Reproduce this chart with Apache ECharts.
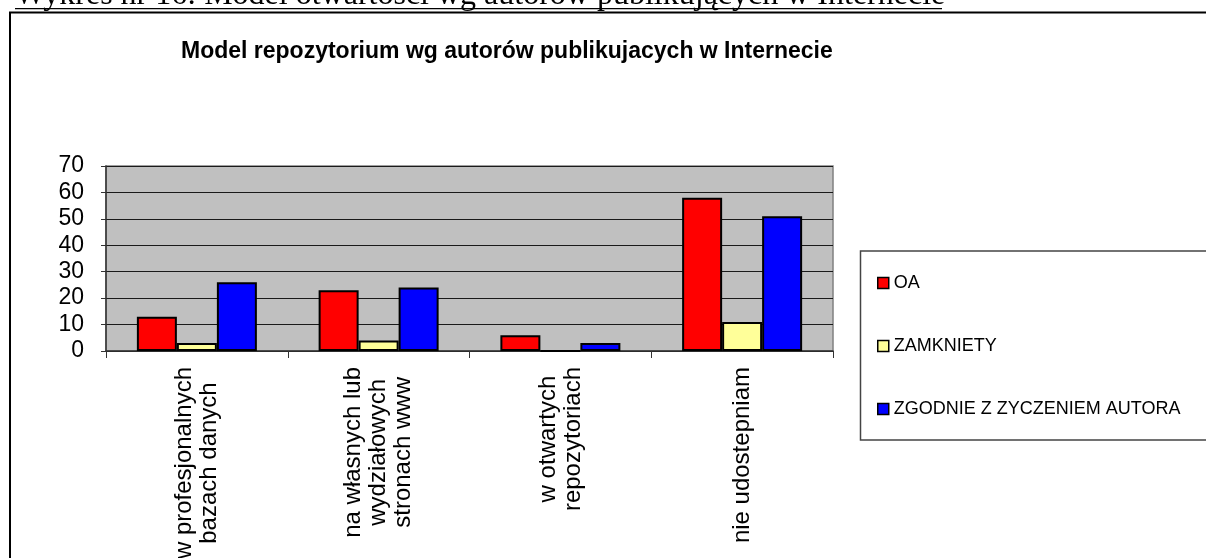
<!DOCTYPE html>
<html>
<head>
<meta charset="utf-8">
<script src="https://cdn.jsdelivr.net/npm/echarts@6/dist/echarts.min.js"></script>
<style>
  html, body { margin:0; padding:0; background:#fff; }
  #canvas { width:1206px; height:558px; }
</style>
</head>
<body>
<div id="canvas"></div>
<script>
var categories = [
    "w profesjonalnych\nbazach danych",
    "na własnych lub\nwydziałowych\nstronach www",
    "w otwartych\nrepozytoriach",
    "nie udostepniam"
];
var seriesNames = ["OA", "ZAMKNIETY", "ZGODNIE Z ZYCZENIEM AUTORA"];
var oaValues = [13, 23, 6, 58];
var zamknietyValues = [3, 4, 0, 11];
var zgodnieValues = [26, 24, 3, 51];
var barColors = ["#ff0000", "#ffff99", "#0000ff"];
var yTicks = [0, 10, 20, 30, 40, 50, 60, 70];

var font = "Arial, 'Liberation Sans', sans-serif";
var myChart = echarts.init(document.getElementById("canvas"));

function makeSeries(name, values, color){
    return {
        name: name,
        type: "bar",
        data: values,
        barWidth: 40,
        barGap: "0%",
        itemStyle: { color: color, borderColor: "#000", borderWidth: 2 },
        emphasis: { disabled: true }
    };
}

myChart.setOption({
    animation: false,
    title: {
        text: "Model repozytorium wg autorów publikujacych w Internecie",
        left: 176,
        top: 35,
        textStyle: { fontFamily: font, fontSize: 23, fontWeight: "bold", color: "#000" }
    },
    legend: {
        orient: "vertical",
        left: 877,
        top: 274,
        padding: 0,
        itemGap: 45,
        itemWidth: 11,
        itemHeight: 11,
        icon: "rect",
        data: seriesNames,
        itemStyle: { borderColor: "#000", borderWidth: 1.5 },
        textStyle: { fontFamily: font, fontSize: 18, color: "#000", lineHeight: 18 }
    },
    grid: {
        left: 106, right: 373, top: 166, height: 185,
        outerBoundsMode: "none",
        containLabel: false,
        show: true,
        backgroundColor: "#c0c0c0",
        borderColor: "#808080",
        borderWidth: 1.5
    },
    xAxis: {
        type: "category",
        data: categories,
        axisLine: { lineStyle: { color: "#333", width: 1.5 } },
        axisTick: { show: true, length: 7, lineStyle: { color: "#333" } },
        axisLabel: {
            rotate: 90,
            margin: 16,
            color: "#000",
            formatter: function(v){
                return v.split("\n").map(function(s){ return "{c|" + s + "}"; }).join("\n");
            },
            rich: { c: { align: "center", fontFamily: font, fontSize: 24, lineHeight: 25, color: "#000" } }
        }
    },
    yAxis: {
        type: "value",
        min: yTicks[0],
        max: yTicks[yTicks.length - 1],
        interval: 10,
        axisLine: { show: true, lineStyle: { color: "#333", width: 1.5 } },
        axisTick: { show: true, length: 5, lineStyle: { color: "#333" } },
        splitLine: { lineStyle: { color: "#1a1a1a", width: 1.2 } },
        axisLabel: { margin: 22, fontFamily: font, fontSize: 23, color: "#000" }
    },
    series: [
        makeSeries(seriesNames[0], oaValues, barColors[0]),
        makeSeries(seriesNames[1], zamknietyValues, barColors[1]),
        makeSeries(seriesNames[2], zgodnieValues, barColors[2])
    ],
    graphic: [
        {
            type: "text",
            style: {
                x: 15, y: 11.5,
                text: "Wykres nr 16: Model otwartości wg autorów publikujących w Internecie",
                font: "32px 'Liberation Serif', 'Times New Roman', serif",
                fill: "#000",
                verticalAlign: "bottom"
            }
        },
        { type: "line", shape: { x1: 15, y1: 8.7, x2: 942, y2: 8.7 }, style: { stroke: "#000", lineWidth: 1.2 } },
        { type: "line", shape: { x1: 9, y1: 12.5, x2: 1206, y2: 12.5 }, style: { stroke: "#000", lineWidth: 2 } },
        { type: "line", shape: { x1: 10, y1: 12.5, x2: 10, y2: 558 }, style: { stroke: "#000", lineWidth: 2 } },
        {
            type: "rect",
            shape: { x: 860.5, y: 251, width: 400, height: 189 },
            style: { fill: "none", stroke: "#444", lineWidth: 1.5 },
            z: -1
        }
    ]
});
</script>
</body>
</html>
